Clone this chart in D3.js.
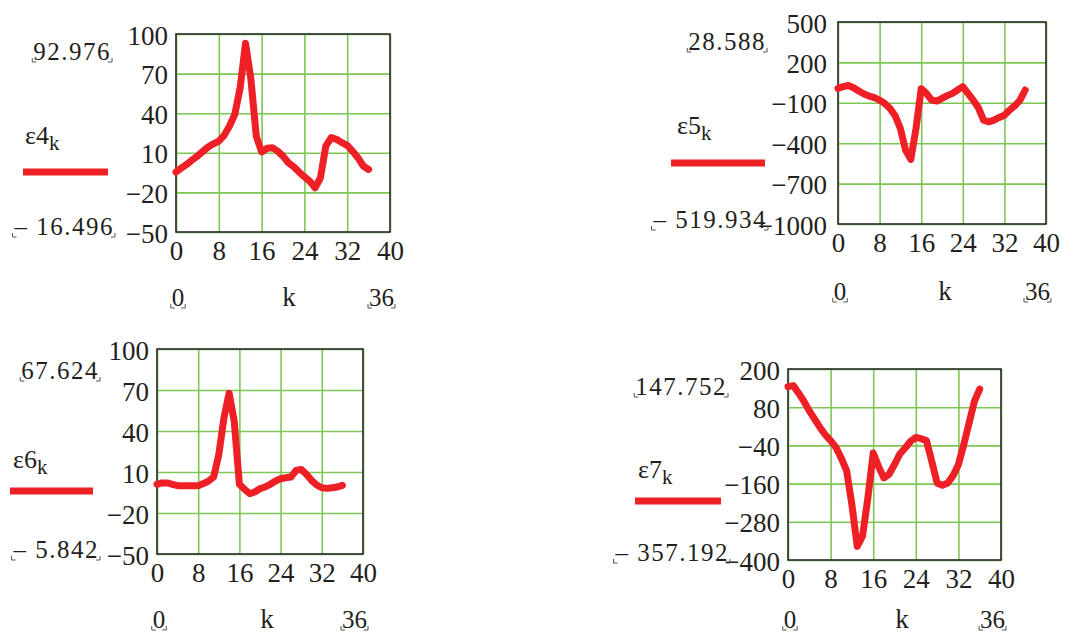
<!DOCTYPE html>
<html>

<head>
    <title>Mathcad plots</title>
    <script src="https://cdn.jsdelivr.net/npm/d3@7"></script>
    <style>
        body { margin: 0; background: #fff; }
        text { font-family: "Liberation Serif", "Times New Roman", serif; fill: #231f20; }
    </style>
</head>

<body>
    <svg width="1073" height="633" id="mainsvg"></svg>
    <script>
        const svg = d3.select('svg');

        // data
        const k = d3.range(0, 37);
        const eps4 = [-4.6, -1.5, 1.2, 4.5, 7.5, 11, 14.4, 16.8, 18.9, 23.2, 30.3, 39.2, 59.5, 92.976, 65.8, 22.7, 10.6, 13.4, 13.9, 11.3, 7.5, 2.5, -0.6, -4.6, -8.2, -11.5, -16.496, -8.9, 15.1, 21.5, 20.2, 17.7, 15.6, 11.3, 6.3, 0, -2.6];
        const eps5 = [7.4, 20, 28.588, 12, -12.5, -35, -50, -62, -80, -105, -142, -197, -291, -453, -519.934, -291, 5, -30, -80, -87, -67, -47, -30, -5, 20, -30, -80, -137, -229, -241, -229, -209, -192, -154, -122, -80, -5];
        const eps6 = [1, 2, 2, 1, 0, 0, 0, 0, 0, 1.5, 3.4, 6.3, 22.8, 49.5, 67.624, 47, 1, -2.7, -5.842, -4.6, -2.2, -1, 1, 3.4, 5.1, 5.8, 6.3, 11.2, 11.9, 8.3, 3.9, 0.5, -1.5, -2, -1.5, -1, 0.2];
        const eps7 = [144.7, 147.752, 124, 98, 68.5, 42.4, 16.3, -6.6, -25, -46, -80, -119, -226, -357.192, -325, -205, -64, -106, -142, -130, -100, -67, -48, -27.5, -15, -19, -25, -90, -158, -165, -158, -135, -100, -38, 30, 98, 137];

        const names = ['ε4', 'ε5', 'ε6', 'ε7'];
        const series = [eps4, eps5, eps6, eps7];
        const xTicks = [0, 8, 16, 24, 32, 40];
        const yTicks4 = [-50, -20, 10, 40, 70, 100];
        const yTicks5 = [-1000, -700, -400, -100, 200, 500];
        const yTicks6 = [-50, -20, 10, 40, 70, 100];
        const yTicks7 = [-400, -280, -160, -40, 80, 200];
        const yTicks = [yTicks4, yTicks5, yTicks6, yTicks7];
        const maxLabels = ['92.976', '28.588', '67.624', '147.752'];
        const minLabels = ['– 16.496', '– 519.934', '– 5.842', '– 357.192'];

        // layout of each panel (box, label anchors)
        const panels = [
            { x0: 176, y0: 34, x1: 390, y1: 232, maxX: 111, maxY: 60, minX: 114, minY: 235, legX: 25, legY: 144, lineX0: 23, lineX1: 108, lineY: 172, rangeY: 306, kX: 289 },
            { x0: 838, y0: 22, x1: 1046, y1: 224, maxX: 766, maxY: 50, minX: 767, minY: 228, legX: 677, legY: 134, lineX0: 671, lineX1: 765, lineY: 163, rangeY: 300, kX: 945 },
            { x0: 157, y0: 349, x1: 363, y1: 554, maxX: 99, maxY: 379, minX: 99, minY: 558, legX: 13, legY: 468, lineX0: 10, lineX1: 93, lineY: 491, rangeY: 628, kX: 267 },
            { x0: 788, y0: 369, x1: 1001, y1: 560, maxX: 727, maxY: 395, minX: 729, minY: 561, legX: 638, legY: 478, lineX0: 635, lineX1: 721, lineY: 501, rangeY: 628, kX: 902 }
        ];

        const red = '#ee2026';
        const green = '#7cc754';

        function cornerMarks(g, node) {
            const b = node.getBBox();
            const yb = b.y + b.height - 3;
            g.append('path')
                .attr('d', `M${b.x - 1},${yb - 4}V${yb}H${b.x + 3} M${b.x + b.width - 3},${yb}H${b.x + b.width + 1}V${yb - 4}`)
                .attr('fill', 'none').attr('stroke', '#555').attr('stroke-width', 1);
        }

        panels.forEach((p, i) => {
            const g = svg.append('g');
            const w = p.x1 - p.x0, h = p.y1 - p.y0;
            const yt = yTicks[i];
            const x = d3.scaleLinear().domain([0, 40]).range([p.x0, p.x1]);
            const y = d3.scaleLinear().domain([yt[0], yt[yt.length - 1]]).range([p.y1, p.y0]);

            // grid + tick labels
            const gx = g.append('g').attr('transform', `translate(0,${p.y1})`)
                .call(d3.axisBottom(x).tickValues(xTicks).tickSizeInner(-h).tickSizeOuter(0).tickPadding(0));
            const gy = g.append('g').attr('transform', `translate(${p.x0},0)`)
                .call(d3.axisLeft(y).tickValues(yt).tickSizeInner(-w).tickSizeOuter(0).tickPadding(i === 1 ? 11 : 8)
                    .tickFormat(d => d < 0 ? '−' + Math.abs(d) : d));
            [gx, gy].forEach(a => {
                a.select('.domain').remove();
                a.selectAll('line').attr('stroke', green).attr('stroke-width', 1.6);
                a.selectAll('text').attr('font-size', 27).attr('fill', '#231f20')
                    .style('font-family', '"Liberation Serif", serif');
            });
            gx.selectAll('text').attr('dy', null).attr('y', 28);
            gy.selectAll('text').attr('dy', null).attr('y', 10);

            g.append('rect').attr('x', p.x0).attr('y', p.y0).attr('width', w).attr('height', h)
                .attr('fill', 'none').attr('stroke', '#2b2b2b').attr('stroke-width', 1.6);

            // curve
            const line = d3.line().x((d, j) => x(k[j])).y(d => y(d));
            g.append('path').datum(series[i])
                .attr('d', line)
                .attr('fill', 'none').attr('stroke', red).attr('stroke-width', 7)
                .attr('stroke-linejoin', 'round').attr('stroke-linecap', 'round');

            // max/min labels
            const tMax = g.append('text').attr('x', p.maxX).attr('y', p.maxY).attr('text-anchor', 'end')
                .attr('font-size', 25).attr('letter-spacing', 1.5).text(maxLabels[i]);
            cornerMarks(g, tMax.node());
            const tMin = g.append('text').attr('x', p.minX).attr('y', p.minY).attr('text-anchor', 'end')
                .attr('font-size', 25).attr('letter-spacing', 1.5).text(minLabels[i]);
            cornerMarks(g, tMin.node());

            // legend
            const leg = g.append('text').attr('x', p.legX).attr('y', p.legY).attr('font-size', 26);
            leg.append('tspan').text(names[i]);
            leg.append('tspan').attr('font-size', 21).attr('dy', 6).text('k');
            g.append('line').attr('x1', p.lineX0).attr('x2', p.lineX1).attr('y1', p.lineY).attr('y2', p.lineY)
                .attr('stroke', red).attr('stroke-width', 7);

            // x range labels
            const t0 = g.append('text').attr('x', x(0) + 2).attr('y', p.rangeY).attr('text-anchor', 'middle')
                .attr('font-size', 25).text('0');
            cornerMarks(g, t0.node());
            g.append('text').attr('x', p.kX).attr('y', p.rangeY).attr('text-anchor', 'middle')
                .attr('font-size', 27).text('k');
            const t36 = g.append('text').attr('x', x(40) + 4).attr('y', p.rangeY).attr('text-anchor', 'end')
                .attr('font-size', 25).text('36');
            cornerMarks(g, t36.node());
        });
    </script>
</body>

</html>
